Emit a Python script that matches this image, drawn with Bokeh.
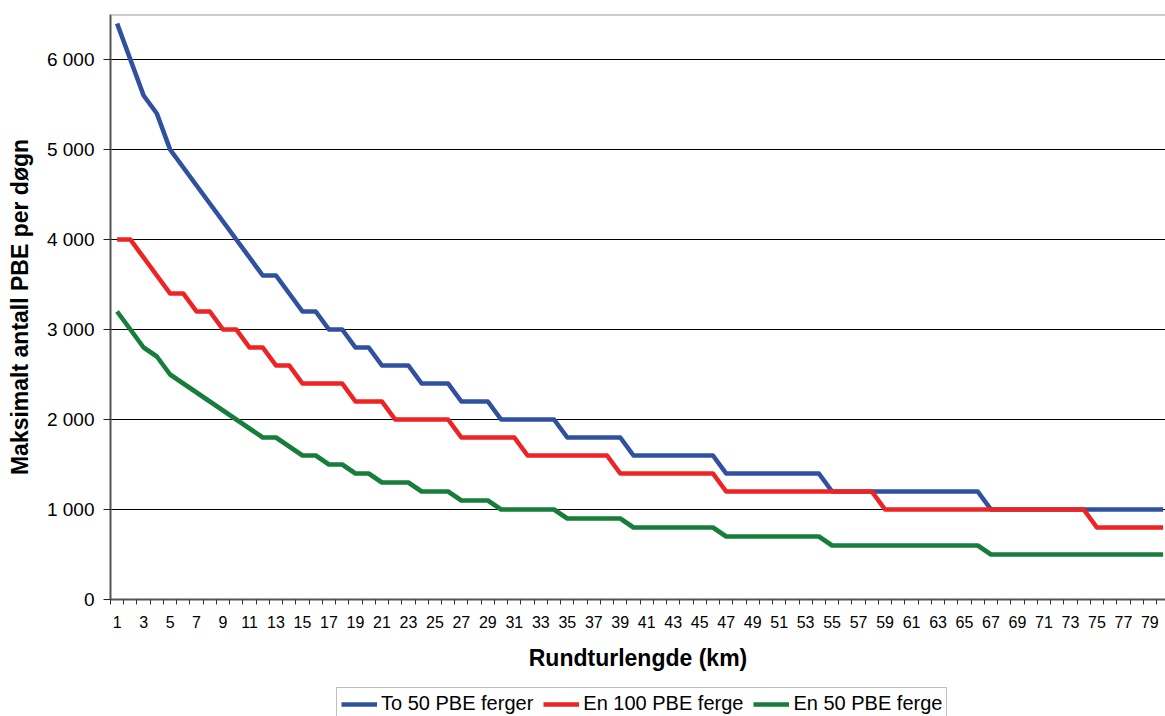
from bokeh.plotting import figure
from bokeh.layouts import column
from bokeh.models import Range1d, FixedTicker, Legend, LegendItem, Span
from bokeh.embed import file_html
from bokeh.resources import INLINE

# ---- data ----
km = list(range(1, 81))

to_50_pbe = [6400, 6000, 5600, 5400, 5000, 4800, 4600, 4400, 4200, 4000,
             3800, 3600, 3600, 3400, 3200, 3200, 3000, 3000, 2800, 2800,
             2600, 2600, 2600, 2400, 2400, 2400, 2200, 2200, 2200, 2000,
             2000, 2000, 2000, 2000, 1800, 1800, 1800, 1800, 1800, 1600,
             1600, 1600, 1600, 1600, 1600, 1600, 1400, 1400, 1400, 1400,
             1400, 1400, 1400, 1400, 1200, 1200, 1200, 1200, 1200, 1200,
             1200, 1200, 1200, 1200, 1200, 1200, 1000, 1000, 1000, 1000,
             1000, 1000, 1000, 1000, 1000, 1000, 1000, 1000, 1000, 1000]

en_100_pbe = [4000, 4000, 3800, 3600, 3400, 3400, 3200, 3200, 3000, 3000,
              2800, 2800, 2600, 2600, 2400, 2400, 2400, 2400, 2200, 2200,
              2200, 2000, 2000, 2000, 2000, 2000, 1800, 1800, 1800, 1800,
              1800, 1600, 1600, 1600, 1600, 1600, 1600, 1600, 1400, 1400,
              1400, 1400, 1400, 1400, 1400, 1400, 1200, 1200, 1200, 1200,
              1200, 1200, 1200, 1200, 1200, 1200, 1200, 1200, 1000, 1000,
              1000, 1000, 1000, 1000, 1000, 1000, 1000, 1000, 1000, 1000,
              1000, 1000, 1000, 1000, 800, 800, 800, 800, 800, 800]

en_50_pbe = [3200, 3000, 2800, 2700, 2500, 2400, 2300, 2200, 2100, 2000,
             1900, 1800, 1800, 1700, 1600, 1600, 1500, 1500, 1400, 1400,
             1300, 1300, 1300, 1200, 1200, 1200, 1100, 1100, 1100, 1000,
             1000, 1000, 1000, 1000, 900, 900, 900, 900, 900, 800,
             800, 800, 800, 800, 800, 800, 700, 700, 700, 700,
             700, 700, 700, 700, 600, 600, 600, 600, 600, 600,
             600, 600, 600, 600, 600, 600, 500, 500, 500, 500,
             500, 500, 500, 500, 500, 500, 500, 500, 500, 500]

series_names = ["To 50 PBE ferger", "En 100 PBE ferge", "En 50 PBE ferge"]
series_colors = ["#3050A0", "#EE2424", "#167D3A"]

y_ticks = [0, 1000, 2000, 3000, 4000, 5000, 6000]
y_tick_labels = ["0", "1 000", "2 000", "3 000", "4 000", "5 000", "6 000"]
x_ticks = km[::2]
x_tick_labels = [str(k) for k in x_ticks]

x_title = "Rundturlengde (km)"
y_title = "Maksimalt antall PBE per døgn"

FONT = "Liberation Sans"
series = [to_50_pbe, en_100_pbe, en_50_pbe]

# ---- main chart ----
p = figure(width=1165, height=682,
           x_range=Range1d(0.5, 80.18), y_range=Range1d(0, 6500),
           output_backend="svg", toolbar_location=None,
           min_border_left=110, min_border_right=0,
           min_border_top=14, min_border_bottom=83)
p.outline_line_color = None
p.background_fill_color = "white"
p.border_fill_color = "white"

for vals, col in zip(series, series_colors):
    p.line(km, vals, line_width=4.6, line_color=col, line_join="round")

xa = p.xaxis[0]
xa.ticker = FixedTicker(ticks=x_ticks, minor_ticks=[k - 0.5 for k in km] + [80.5])
xa.major_label_overrides = {t: l for t, l in zip(x_ticks, x_tick_labels)}
xa.major_tick_out = 0
xa.major_tick_in = 0
xa.minor_tick_out = 5
xa.minor_tick_in = 0
xa.minor_tick_line_color = "#333333"
xa.axis_line_color = "#555555"
xa.axis_line_width = 2
xa.major_label_standoff = 11
xa.major_label_text_font = FONT
xa.major_label_text_font_size = "16px"
xa.major_label_text_color = "black"
xa.axis_label = x_title
xa.axis_label_text_font = FONT
xa.axis_label_text_font_style = "bold"
xa.axis_label_text_font_size = "23px"
xa.axis_label_text_color = "black"
xa.axis_label_standoff = 14

ya = p.yaxis[0]
ya.ticker = FixedTicker(ticks=y_ticks)
ya.major_label_overrides = {t: l for t, l in zip(y_ticks, y_tick_labels)}
ya.major_tick_out = 7
ya.major_tick_in = 0
ya.minor_tick_out = 0
ya.minor_tick_in = 0
ya.major_tick_line_color = "#222222"
ya.axis_line_color = "#555555"
ya.axis_line_width = 2
ya.major_label_standoff = 9
ya.major_label_text_font = FONT
ya.major_label_text_font_size = "19px"
ya.major_label_text_color = "black"
ya.axis_label = y_title
ya.axis_label_text_font = FONT
ya.axis_label_text_font_style = "bold"
ya.axis_label_text_font_size = "23px"
ya.axis_label_text_color = "black"
ya.axis_label_standoff = 11

p.xgrid.grid_line_color = None
p.ygrid.ticker = FixedTicker(ticks=y_ticks[1:])
p.ygrid.grid_line_color = "#000000"
p.ygrid.grid_line_width = 1

p.add_layout(Span(location=6500, dimension="width", line_color="#9a9a9a", line_width=2))

# ---- legend strip (its own small figure, renderers hidden) ----
q = figure(width=1165, height=34, output_backend="svg", toolbar_location=None,
           x_axis_type=None, y_axis_type=None,
           min_border_left=0, min_border_right=0, min_border_top=0, min_border_bottom=0)
q.outline_line_color = None
q.xgrid.visible = False
q.ygrid.visible = False
q.background_fill_color = "white"
q.border_fill_color = "white"

leg_renderers = []
for vals, col in zip(series, series_colors):
    r = q.line(km, vals, line_width=4.6, line_color=col)
    r.visible = False
    leg_renderers.append(r)

legend = Legend(items=[LegendItem(label=n, renderers=[r]) for n, r in zip(series_names, leg_renderers)],
                orientation="horizontal", location=(226, -4),
                label_text_font=FONT, label_text_font_size="20px", label_text_color="black",
                glyph_width=36, glyph_height=18, label_height=18, label_standoff=4,
                spacing=10, padding=4,
                border_line_color="#7f7f7f", border_line_width=1,
                background_fill_color="white", background_fill_alpha=1,
                inactive_fill_alpha=0, margin=0)
q.add_layout(legend)

layout = column(p, q, spacing=0)
open("out.html", "w").write(file_html(layout, INLINE))
